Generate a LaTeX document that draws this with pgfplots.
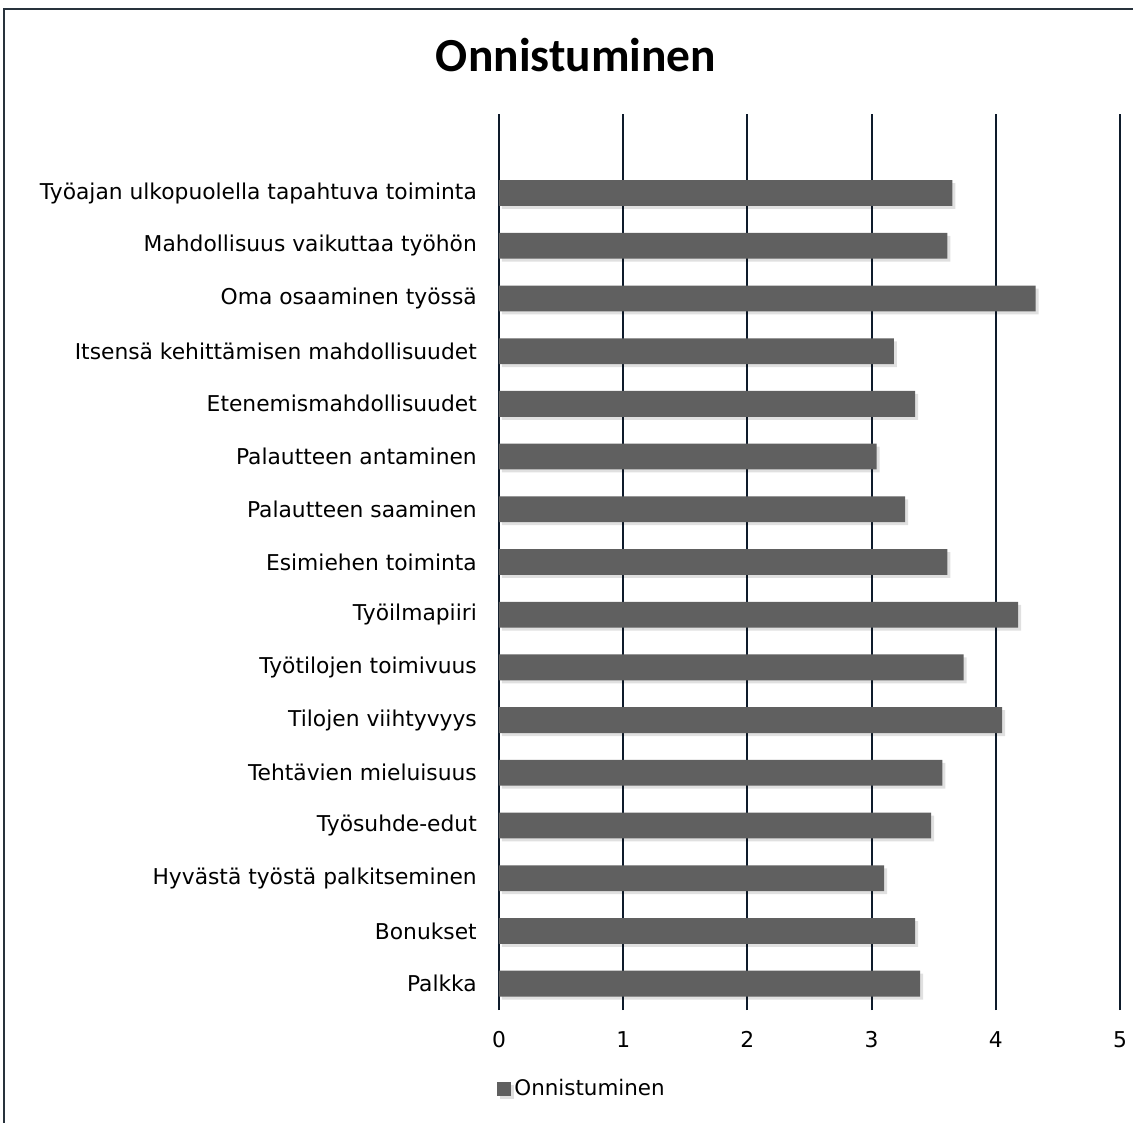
\documentclass[border=0pt]{standalone}
\usepackage{pgfplots}
\pgfplotsset{compat=1.18}
\usepackage{fontspec}
\setmainfont{DejaVu Sans}
\newfontfamily\titlefont{Carlito}
\definecolor{barc}{RGB}{96,96,96}
\definecolor{gridc}{RGB}{14,27,43}
\definecolor{framec}{RGB}{40,50,60}
\pgfplotstableread{
y val
0 3.39
1 3.35
2 3.10
3 3.48
4 3.57
5 4.05
6 3.74
7 4.18
8 3.61
9 3.27
10 3.04
11 3.35
12 3.18
13 4.32
14 3.61
15 3.65
}\datatable
\begin{document}
\begin{tikzpicture}
\begin{axis}[
  scale only axis, width=124.2mm, height=179.2mm,
  clip=false,
  xmin=0, xmax=5, ymin=-0.5, ymax=16.5,
  xbar, bar width=0.49,
  xtick={0,1,2,3,4,5},
  ytick={0,...,15},
  yticklabels={Palkka,Bonukset,Hyvästä työstä palkitseminen,Työsuhde-edut,Tehtävien mieluisuus,Tilojen viihtyvyys,Työtilojen toimivuus,Työilmapiiri,Esimiehen toiminta,Palautteen saaminen,Palautteen antaminen,Etenemismahdollisuudet,Itsensä kehittämisen mahdollisuudet,Oma osaaminen työssä,Mahdollisuus vaikuttaa työhön,Työajan ulkopuolella tapahtuva toiminta},
  axis line style={draw=none},
  major tick length=0pt,
  xmajorgrids,
  grid style={color=gridc, line width=0.4mm},
  /pgf/number format/assume math mode=true,
  ticklabel style={font=\fontsize{12.4}{15}\selectfont},
  xticklabel style={yshift=-3mm},
  yticklabel style={xshift=-3.2mm},
  legend style={at={(-0.004,-0.088)}, anchor=west, draw=none, fill=none, font=\fontsize{12.2}{15}\selectfont, inner sep=0pt},
  legend image code/.code={\fill[barc] (0mm,-1.4mm) rectangle (2.8mm,1.4mm);},
]
\addplot[draw=none, fill=barc,
  preaction={fill=black, opacity=0.12, transform canvas={xshift=0.6mm,yshift=-0.6mm}}]
  table[x=val,y=y] {\datatable};
\addlegendentry{Onnistuminen}
\coordinate (bbsw) at (rel axis cs:-0.80354,-0.125);
\coordinate (bbne) at (rel axis cs:1.02093,1.12723);
\coordinate (frnw) at (rel axis cs:-0.7971,1.1172);
\coordinate (frse) at (rel axis cs:1.1,-0.2);
\coordinate (ttl) at (rel axis cs:0.124,1.0658);
\end{axis}
\draw[color=framec, line width=0.35mm] (frnw) rectangle (frse);
\node[font=\titlefont\bfseries\fontsize{27}{31}\selectfont] at (ttl) {Onnistuminen};
\pgfresetboundingbox
\useasboundingbox (bbsw) rectangle (bbne);
\end{tikzpicture}
\end{document}
